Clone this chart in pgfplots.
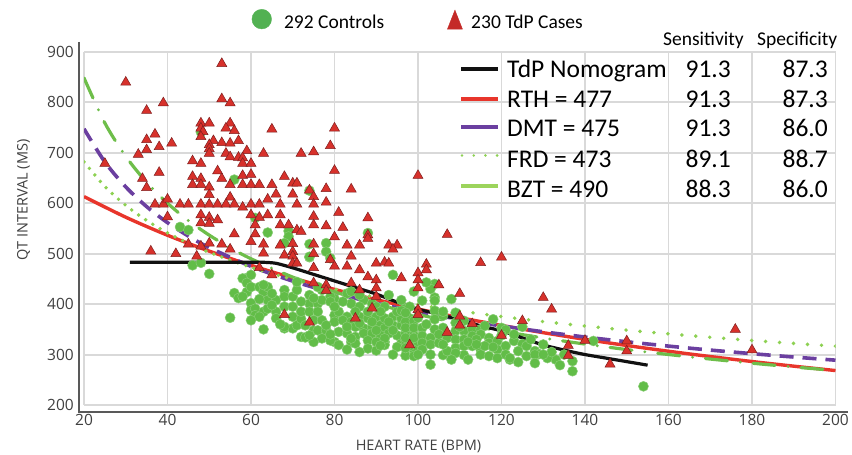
\documentclass[border=0pt]{standalone}
\usepackage{pgfplots}
\pgfplotsset{compat=1.18}
\usepackage{fontspec}
\setmainfont{Open Sans}
\newfontfamily\carlito{Carlito}
\definecolor{gridc}{HTML}{D9D9D9}
\definecolor{tickc}{HTML}{404040}
\definecolor{spinec}{HTML}{595959}
\definecolor{ctrl}{HTML}{62BD48}
\definecolor{ctrlLeg}{HTML}{52B152}
\definecolor{casec}{HTML}{D7312B}
\definecolor{caseEdge}{HTML}{7F1F1F}
\definecolor{caseLeg}{HTML}{C42A27}
\definecolor{rth}{HTML}{E8352B}
\definecolor{dmt}{HTML}{6B3FA0}
\definecolor{frd}{HTML}{8DD152}
\definecolor{bzt}{HTML}{6EBE4A}
\definecolor{bztLeg}{HTML}{9CD45C}
\definecolor{nomo}{HTML}{111111}
\begin{document}
\begin{tikzpicture}
\useasboundingbox (0pt,0pt) rectangle (852pt,455pt);
\begin{axis}[
  at={(84pt,50pt)}, anchor=south west,
  scale only axis, width=751.5pt, height=353pt,
  xmin=20, xmax=200, ymin=200, ymax=900,
  xtick={20,40,...,200}, ytick={200,300,...,900},
  grid=major, major grid style={color=gridc, line width=1.9pt},
  axis line style={draw=none},
  major tick length=0pt, tick style={draw=none},
  tick label style={font=\fontsize{15.5}{15.5}\selectfont, color=tickc},
  xticklabel style={inner sep=0pt, anchor=north},
  yticklabel style={inner sep=0pt, anchor=east},
  xticklabel shift=9pt, yticklabel shift=10pt,
  /pgf/number format/assume math mode=true,
  legend columns=2,
  legend style={draw=none, fill=none, inner sep=0pt, outer sep=0pt,
    font=\carlito\fontsize{19.5}{20}\selectfont,
    at={(0.2232,1.0924)}, anchor=west,
    nodes={inner sep=0pt, anchor=base west},
    /tikz/every odd column/.append style={column sep=8.6pt},
    /tikz/every even column/.append style={column sep=63pt}},
]
% ---- controls (green circles)
\addplot[forget plot, only marks, mark=*, mark size=5pt,
  mark options={fill=ctrl, draw=ctrl!75!white, line width=0.5pt}] coordinates {
(48,741)(56,647)(74,625)(61,571)(43,553)(45,547)(64,542)(69,545)(69,534)(68,521)
(74,519)(78,521)(74,493)(88,541)(78,504)(79,491)(74,494)(46,477)(48,482)(50,460)(55,373)
(59,452)(60,458)(58,451)(56,422)(57,412)(59,442)(59,424)(60,434)(62,434)(63,424)
(60,402)(60,388)(62,382)(61,391)(63,385)(61,378)(62,375)(60,368)(64,391)(66,385)
(64,408)(66,408)(64,434)(65,421)(63,438)(68,428)(68,415)(70,415)(71,428)(71,444)
(68,395)(70,395)(63,350)(68,352)(70,352)(68,355)(71,358)(70,375)(72,371)(66,372)
(67,360)(65,398)(62,410)(58,415)
(74,418)(74,401)(76,401)(77,408)(72,385)(74,385)(76,385)(75,368)(77,368)(75,348)
(76,348)(78,348)(80,378)(81,385)(83,375)(80,411)(79,415)(77,428)(76,434)(83,421)
(84,425)(87,408)(89,401)(84,401)(86,395)(90,395)(92,395)(93,418)(96,408)(97,391)
(99,425)(94,458)(80,365)(82,368)(84,365)(85,355)(87,352)(89,355)(91,358)(92,352)
(94,358)(96,358)(97,352)(99,355)(86,375)(88,372)(90,375)(92,372)(94,375)(96,372)
(98,372)(100,375)(81,345)(83,342)(85,335)(87,342)(89,342)(91,338)(93,342)(95,338)
(97,342)(99,338)(88,328)(90,325)(92,325)(96,322)(97,328)(99,318)(84,325)(85,322)
(84,332)(80,325)(77,332)(79,328)(75,325)(72,335)(73,334)(81,319)(88,312)(92,319)
(92,332)(99,309)(82,405)(79,405)(72,405)(75,412)(86,418)(88,385)(91,385)(95,385)
(98,395)(93,365)(97,365)(89,365)(85,385)(78,358)(83,355)(86,362)(90,348)(94,348)
(74,338)(80,395)(73,358)(79,340)(95,315)(90,308)(86,305)(83,310)(94,300)(97,298)(91,318)
(104,440)(104,413)(104,407)(101,407)(108,410)(96,387)(97,383)(99,367)(100,373)(97,353)
(99,353)(101,353)(97,333)(99,333)(101,337)(103,333)(104,387)(104,370)(106,377)(102,360)
(104,350)(106,353)(109,383)(106,385)(109,363)(111,367)(109,347)(111,347)(113,350)(107,333)
(109,330)(111,330)(113,337)(115,350)(116,357)(118,370)(120,353)(121,349)(115,340)(114,330)
(117,333)(117,323)(119,327)(123,327)(125,321)(126,317)(127,330)(128,307)(129,301)(122,290)
(124,285)(133,290)(134,279)(137,287)(137,267)(142,327)(106,299)(111,299)(103,280)(115,310)
(115,300)(117,297)(116,317)(101,323)(103,320)(105,323)(98,317)(99,297)(101,310)(109,313)
(111,317)(113,317)(107,307)(109,303)(119,310)(121,317)(124,307)(126,297)(128,300)(121,300)
(122,293)(119,293)(131,293)(128,283)(97,313)(154,237)(103,430)(102,443)(110,355)(112,325)
(105,340)(114,320)(118,315)(123,340)(125,355)(120,338)(130,320)(132,305)(135,300)(130,300)
(100,300)(103,300)(106,320)(108,290)(112,290)
};
% ---- curves
\addplot[forget plot, rth, line width=3.4pt, smooth] coordinates {
(20,613.3)(30,572.4)(40,536.6)(50,505.1)(60,477.0)(70,451.9)(80,429.3)(90,408.9)(100,390.3)
(110,373.3)(120,357.8)(130,343.4)(140,330.2)(150,318.0)(160,306.6)(170,296.1)(180,286.2)(190,277.0)(200,268.3)};
\addplot[forget plot, dmt, line width=3.6pt, smooth, dash pattern=on 14pt off 9pt] coordinates {
(20,747.7)(25,681.9)(30,632.5)(35,593.4)(40,561.6)(45,535.0)(50,512.1)(60,475.0)(70,445.7)(80,421.8)
(90,401.8)(100,384.7)(110,369.8)(120,356.8)(130,345.2)(140,334.8)(150,325.4)(160,316.8)(170,308.9)
(180,301.8)(190,295.1)(200,288.9)};
\addplot[forget plot, frd, line width=3.9pt, smooth, line cap=round, dash pattern=on 0pt off 8.5pt] coordinates {
(20,682.2)(25,633.3)(30,595.9)(35,566.0)(40,541.4)(45,520.6)(50,502.7)(60,473.0)(70,449.3)(80,429.8)(90,413.2)};
\addplot[forget plot, frd, line width=3.9pt, smooth, line cap=round, dash pattern=on 0pt off 14pt] coordinates {
(90,413.2)(100,398.9)(110,386.5)(120,375.4)(130,365.5)(140,356.6)(150,348.5)(160,341.1)(170,334.3)
(180,328.0)(190,322.2)(200,316.6)};
\addplot[forget plot, bzt, line width=3.2pt, smooth, line cap=round, dash pattern=on 22pt off 13pt on 0pt off 13pt] coordinates {
(20,848.7)(25,759.1)(30,693.0)(35,641.6)(40,600.1)(45,565.8)(50,536.8)(55,511.8)(60,490.0)(70,453.6)
(80,424.4)(90,400.1)(100,379.6)(110,361.9)(120,346.5)(130,332.9)(140,320.8)(150,309.9)(160,300.1)
(170,291.1)(180,282.9)(190,275.4)(200,268.4)};
\addplot[forget plot, nomo, line width=3.2pt, smooth, tension=0.4] coordinates {
(31,483)(45,483)(60,483)(63,483)(66,481)(70,472)(75,459)(80,446)(85,433)(90,420)(95,404)(100,390)
(105,380)(110,369)(115,357)(120,347)(125,333)(130,319)(136,307)(140,300)(145,293)(150,286)(155,279)};
% ---- TdP cases (red triangles)
\addplot[forget plot, only marks, mark=triangle*, mark size=5.8pt,
  mark options={fill=casec, draw=caseEdge, line width=0.5pt}] coordinates {
(30,840)(53,877)(39,799)(35,784)(53,807)(55,799)(48,759)(50,759)(48,749)(48.5,742)
(48,732)(55,759)(54,749)(56,744)(37,737)(35,726)(38,712)(41,719)(35,706)(33,697)
(25,679)(51,724)(50,716)(50,708)(50,699)(53,720)(55,719)(57,724)(54,699)(55,692)
(57,691)(59,704)(58,690)(63,699)(46,684)(48,679)(58,679)(60,679)(52,664)(38,661)
(34,649)(46,653)(48,649)(53,649)(58,655)(60,657)(35,631)(46,637)(48,637)(50,632)
(55,637)(58,637)(60,637)(62,637)(50,617)(55,612)(37,598)(39,598)(40,608)(43,598)
(45,598)(48,598)(50,598)(52,598)(54,598)(56,598)(58,592)(60,598)(62,598)(65,747)
(80,749)(79,714)(72,699)(75,702)(80,665)(68,653)(70,640)(71,640)(74,626)(78,629)
(84,628)(65,637)(64,608)(66,618)(70,618)(75,613)(78,602)(67,598)(71,598)(75,598)
(100,655)
(48,577)(50,572)(52,567)(60,577)(62,572)(40,573)(48,561)(61,557)(56,539)(61,539)
(45,519)(48,515)(53,519)(63,519)(36,505)(42,500)(47,495)(63,501)(81,582)(88,571)
(75,574)(64,577)(67,577)(82,552)(78,555)(75,557)(67,557)(69,557)(71,547)(72,544)
(80,533)(88,537)(88,530)(107,538)(67,517)(70,520)(75,519)(83,517)(86,517)(93,517)
(95,517)(94,509)(68,497)(70,504)(70,495)(75,500)(84,495)(50,521)(55,509)(60,524)(50,560)
(62,472)(65,458)(70,481)(71,481)(75,472)(79,488)(80,475)(78,438)(78,427)(75,442)
(83,475)(84,442)(86,468)(86,428)(88,454)(90,481)(90,448)(90,432)(90,415)(92,483)
(93,481)(96,452)(89,392)(85,372)(68,379)(74,364)(98,319)(100,462)(100,448)(100,432)
(100,389)(100,379)(102,479)(102,468)(105,438)(115,482)(120,493)(110,421)(130,413)(132,390)
(125,367)(110,376)(110,358)(113,361)(107,344)(120,338)(136,318)(136,298)(140,328)(150,327)
(150,307)(146,281)(176,350)(180,309)
};
% ---- top legend
\addlegendimage{legend image code/.code={\fill[ctrlLeg] (0pt,9pt) circle (9.8pt); \path (13.5pt,0pt);}}
\addlegendimage{legend image code/.code={\fill[caseLeg] (-7.5pt,-1pt) -- (7.5pt,-1pt) -- (0pt,18pt) -- cycle;}}
\legend{292 Controls, 230 TdP Cases}
\end{axis}
% spines
\draw[spinec, line width=2.2pt] (79pt,413pt) -- (79pt,43pt) -- (848pt,43pt);
% axis titles
\node[rotate=90, inner sep=0pt, color=tickc, font=\fontsize{14.5}{14.5}\selectfont] at (23.5pt,255pt) {QT INTERVAL (MS)};
\node[inner sep=0pt, color=tickc, font=\fontsize{14.5}{14.5}\selectfont] at (418.5pt,9pt) {HEART RATE (BPM)};
% table legend
\begin{scope}[every node/.style={inner sep=0pt}]
\node[anchor=base west, font=\carlito\fontsize{19.5}{20}\selectfont] at (663pt,409pt) {Sensitivity};
\node[anchor=base west, font=\carlito\fontsize{19.5}{20}\selectfont] at (757pt,409pt) {Specificity};
\draw[nomo, line width=4.3pt] (461pt,386pt) -- (498pt,386pt);
\draw[rth, line width=4pt] (461pt,356pt) -- (498pt,356pt);
\draw[dmt, line width=4pt] (461pt,327.5pt) -- (498pt,327.5pt);
\draw[frd, line width=2.8pt, line cap=round, dash pattern=on 0pt off 11.7pt] (462pt,299.5pt) -- (498pt,299.5pt);
\draw[bztLeg, line width=4.5pt] (461pt,269pt) -- (498pt,269pt);
\foreach \y/\name/\se/\sp in {377.7/TdP Nomogram/91.3/87.3, 347.7/RTH = 477/91.3/87.3,
  318.3/DMT = 475/91.3/86.0, 287.7/FRD = 473/89.1/88.7, 257.7/BZT = 490/88.3/86.0} {
  \node[anchor=base west, font=\carlito\fontsize{25.5}{26}\selectfont] at (507pt,\y pt) {\name};
  \node[anchor=base east, font=\carlito\fontsize{25.5}{26}\selectfont] at (731pt,\y pt) {\se};
  \node[anchor=base east, font=\carlito\fontsize{25.5}{26}\selectfont] at (828pt,\y pt) {\sp};
}
\end{scope}
\end{tikzpicture}
\end{document}
